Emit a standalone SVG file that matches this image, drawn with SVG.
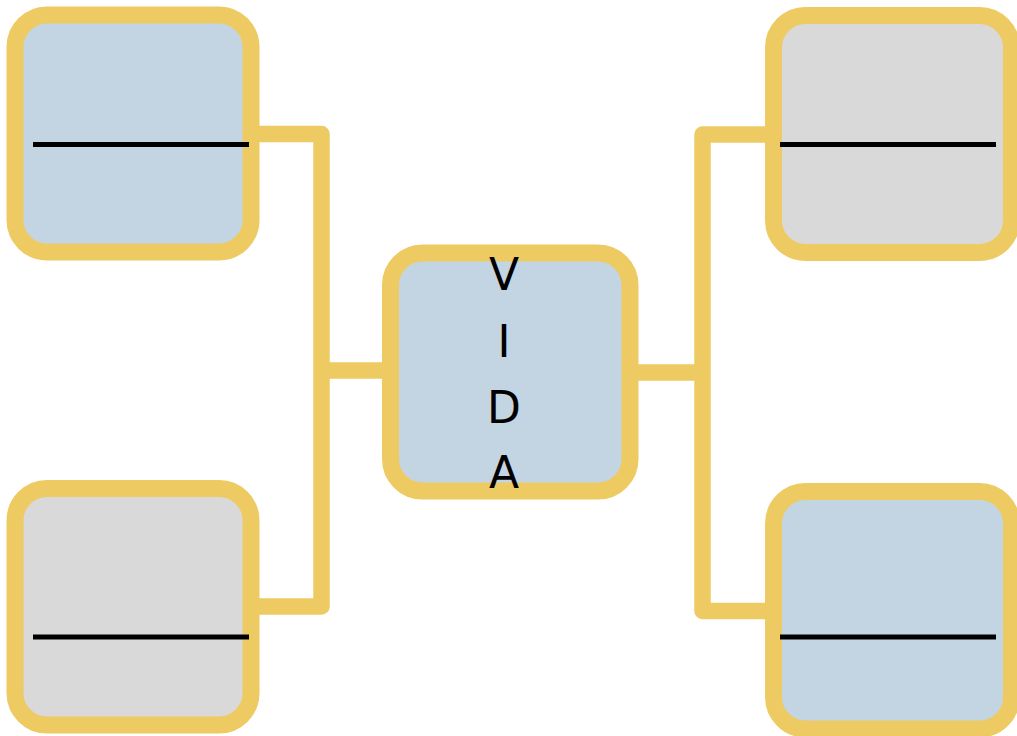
<svg xmlns="http://www.w3.org/2000/svg" width="1017" height="736" viewBox="0 0 1017 736">
  <style>
    .box { stroke: #EECA62; stroke-width: 17; }
    .blue { fill: #C3D5E2; }
    .gray { fill: #D9D9D9; }
    .conn { fill: none; stroke: #EECA62; stroke-width: 16.5; stroke-linejoin: round; }
    .bar { stroke: #000000; stroke-width: 5; }
    .lbl { font-family: "DejaVu Sans", sans-serif; font-size: 44px; fill: #000000; text-anchor: middle; }
  </style>
  <rect width="1017" height="736" fill="#FFFFFF"/>
  <g id="connectors">
    <path class="conn" d="M 251 134 H 321.5 V 606.5 H 251"/>
    <path class="conn" d="M 321.5 370.5 H 391"/>
    <path class="conn" d="M 773.5 134.5 H 702.5 V 611 H 773.5"/>
    <path class="conn" d="M 630 372.5 H 702.5"/>
  </g>
  <g id="node-top-left">
    <rect class="box blue" x="15" y="15" width="236" height="237" rx="32"/>
    <line class="bar" x1="33" y1="144.5" x2="249" y2="144.5"/>
  </g>
  <g id="node-bottom-left">
    <rect class="box gray" x="15" y="488.5" width="236" height="236.5" rx="32"/>
    <line class="bar" x1="33" y1="637" x2="249" y2="637"/>
  </g>
  <g id="node-top-right">
    <rect class="box gray" x="773.5" y="15.5" width="238" height="237" rx="32"/>
    <line class="bar" x1="780" y1="144.5" x2="996" y2="144.5"/>
  </g>
  <g id="node-bottom-right">
    <rect class="box blue" x="773.5" y="491.5" width="238" height="237.5" rx="32"/>
    <line class="bar" x1="780" y1="637" x2="996" y2="637"/>
  </g>
  <g id="node-center">
    <rect class="box blue" x="390.5" y="253" width="239.5" height="238" rx="32"/>
    <text class="lbl" x="504" y="290">V</text>
    <text class="lbl" x="504" y="357">I</text>
    <text class="lbl" x="504" y="423">D</text>
    <text class="lbl" x="504" y="488">A</text>
  </g>
</svg>
